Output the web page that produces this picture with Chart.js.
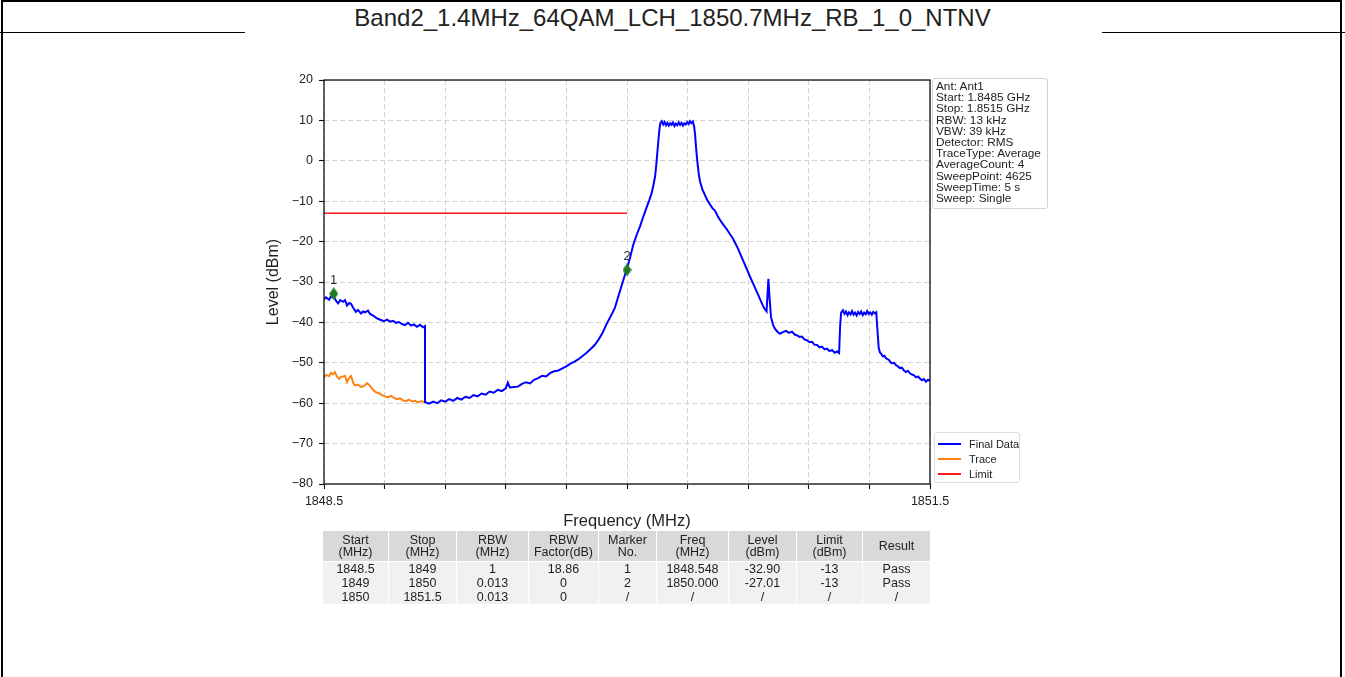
<!DOCTYPE html>
<html>
<head>
<meta charset="utf-8">
<script src="https://cdn.jsdelivr.net/npm/chart.js@4.4.1/dist/chart.umd.min.js"></script>
<style>
  html, body { margin: 0; padding: 0; background: #fff; }
  body { width: 1345px; height: 677px; overflow: hidden; position: relative;
         font-family: "Liberation Sans", Arial, sans-serif; color: #222; }
  #frame { position: absolute; left: 1px; top: 0; width: 1337px; height: 720px;
           border: 2px solid #000; border-bottom: none; }
  #title { position: absolute; left: 0; top: 1px; width: 1345px; height: 32px; line-height: 33px;
           text-align: center; font-size: 24px; }
  #rule { position: absolute; left: 0; top: 32px; width: 1345px; border-top: 1.5px solid #000; }
  #figure { position: absolute; left: 245px; top: 31px; width: 857px; height: 660px; background: #fff; }
  #chart { position: absolute; left: 0; top: 9px; }
  #info { position: absolute; left: 687px; top: 47px; width: 108px; padding: 2px 3px 4px 3px;
          border: 1px solid #d4d4d4; border-radius: 3px; font-size: 11.8px; line-height: 11.2px;
          white-space: pre; color: #222; }
  #legend { position: absolute; left: 689px; top: 401px; width: 84px; height: 49px;
            border: 1px solid #dcdcdc; border-radius: 3px; font-size: 11px; }
  #legend .item { position: absolute; left: 3px; height: 14px; line-height: 14px; white-space: nowrap; }
  #legend .swatch { display: inline-block; width: 23px; height: 2px; vertical-align: middle;
                    margin-right: 8px; position: relative; top: -1px; }
  #results { position: absolute; left: 77px; top: 499px; width: 608px; border-collapse: collapse;
             table-layout: fixed; font-size: 12.5px; text-align: center; color: #222; }
  #results th { background: #d9d9d9; font-weight: normal; height: 30px; line-height: 12.5px;
                padding: 0; border: 1px solid #fff; }
  #results td { background: #f1f1f1; height: 14px; line-height: 13px; padding: 0; border: 0 solid #fff;
                border-left-width: 1px; border-right-width: 1px; }
</style>
</head>
<body>
<div id="frame"></div>
<div id="title">Band2_1.4MHz_64QAM_LCH_1850.7MHz_RB_1_0_NTNV</div>
<div id="rule"></div>
<div id="figure">
  <canvas id="chart" width="857" height="500"></canvas>
  <div id="info"></div>
  <div id="legend"></div>
  <table id="results">
    <colgroup>
      <col style="width:66px"><col style="width:68px"><col style="width:72px"><col style="width:70px">
      <col style="width:58px"><col style="width:72px"><col style="width:68px"><col style="width:66px"><col style="width:68px">
    </colgroup>
    <thead><tr id="results-head"></tr></thead>
    <tbody></tbody>
  </table>
</div>
<script>
// spectrum trace, MHz / dBm
const finalFreq = [
  1848.500, 1848.510, 1848.525, 1848.535, 1848.550, 1848.560, 1848.570, 1848.580, 1848.595, 1848.604,
  1848.614, 1848.624, 1848.634, 1848.644, 1848.658, 1848.668, 1848.683, 1848.693, 1848.703, 1848.718,
  1848.728, 1848.743, 1848.757, 1848.767, 1848.782, 1848.797, 1848.812, 1848.827, 1848.842, 1848.856,
  1848.871, 1848.886, 1848.901, 1848.916, 1848.931, 1848.945, 1848.960, 1848.975, 1848.990, 1849.000,
  1849.000, 1849.020, 1849.040, 1849.060, 1849.080, 1849.100, 1849.120, 1849.140, 1849.160, 1849.180,
  1849.200, 1849.220, 1849.240, 1849.260, 1849.280, 1849.300, 1849.320, 1849.340, 1849.360, 1849.380,
  1849.400, 1849.410, 1849.420, 1849.440, 1849.460, 1849.480, 1849.500, 1849.520, 1849.540, 1849.560,
  1849.580, 1849.600, 1849.620, 1849.640, 1849.660, 1849.680, 1849.700, 1849.720, 1849.740, 1849.760,
  1849.780, 1849.800, 1849.820, 1849.840, 1849.860, 1849.880, 1849.900, 1849.920, 1849.940, 1849.960,
  1849.980,
  1850.000, 1850.015, 1850.031, 1850.048, 1850.064, 1850.081, 1850.098, 1850.110, 1850.122, 1850.131,
  1850.139, 1850.145, 1850.150, 1850.155, 1850.160,
  1850.165, 1850.172, 1850.179, 1850.186, 1850.193, 1850.200, 1850.207, 1850.214, 1850.221, 1850.228,
  1850.235, 1850.242, 1850.249, 1850.256, 1850.263, 1850.270, 1850.277, 1850.284, 1850.291, 1850.298,
  1850.305, 1850.312, 1850.319, 1850.326,
  1850.332, 1850.337, 1850.342, 1850.348, 1850.354, 1850.361, 1850.373, 1850.386, 1850.398, 1850.411,
  1850.423, 1850.436, 1850.448, 1850.460, 1850.478, 1850.495, 1850.510, 1850.525, 1850.538, 1850.550,
  1850.562, 1850.574, 1850.587, 1850.599, 1850.609, 1850.619, 1850.629, 1850.639, 1850.648, 1850.658,
  1850.668, 1850.678, 1850.691,
  1850.700, 1850.705, 1850.713, 1850.723, 1850.733, 1850.745, 1850.757, 1850.772, 1850.787, 1850.802,
  1850.817, 1850.830, 1850.842, 1850.854, 1850.866, 1850.878, 1850.891, 1850.903, 1850.916, 1850.928,
  1850.941, 1850.953, 1850.965, 1850.978, 1850.990, 1851.003, 1851.015, 1851.028, 1851.040, 1851.050,
  1851.055, 1851.060, 1851.069, 1851.077, 1851.084, 1851.092, 1851.099, 1851.107, 1851.114, 1851.122,
  1851.129, 1851.137, 1851.144, 1851.152, 1851.159, 1851.167, 1851.174, 1851.182, 1851.189, 1851.197,
  1851.204, 1851.212, 1851.219, 1851.227, 1851.234,
  1851.240, 1851.246, 1851.252, 1851.260, 1851.267, 1851.275, 1851.282, 1851.290, 1851.297, 1851.305,
  1851.312, 1851.322, 1851.332, 1851.342, 1851.351, 1851.361, 1851.371, 1851.381, 1851.391, 1851.401,
  1851.411, 1851.421, 1851.431, 1851.441, 1851.450, 1851.460, 1851.470, 1851.480, 1851.490, 1851.500
];
const finalLevel = [
  -34.3, -33.8, -34.4, -33.5, -33.8, -34.7, -35.3, -34.5, -34.9, -34.5,
  -35.8, -35.2, -35.4, -36.3, -37.4, -36.9, -37.8, -37.3, -37.5, -37.1,
  -37.9, -38.3, -38.8, -39.1, -39.4, -39.7, -39.3, -39.8, -39.6, -40.1,
  -39.9, -40.4, -40.7, -40.1, -40.8, -40.5, -41.1, -40.6, -41.2, -40.9,
  -59.7, -60.1, -59.6, -60.0, -59.3, -59.6, -59.0, -59.4, -58.7, -59.1,
  -58.4, -58.7, -58.0, -58.3, -57.6, -57.9, -57.1, -57.4, -56.7, -57.0,
  -56.3, -54.9, -56.1, -56.0, -55.9, -55.2, -54.8, -55.1, -54.2, -53.8,
  -53.2, -53.4, -52.5, -52.1, -51.9, -51.4, -50.9, -50.2, -49.7, -49.1,
  -48.3, -47.5, -46.6, -45.6, -44.2, -42.5, -40.3, -38.4, -36.4, -33.1,
  -29.8,
  -26.6, -24.0, -20.8, -18.3, -16.3, -13.8, -11.4, -9.8, -8.0, -6.0,
  -3.9, -1.0, 1.9, 4.8, 7.6,
  9.3, 9.8, 9.0, 9.6, 8.8, 9.4, 8.7, 9.3, 8.9, 9.5,
  8.6, 9.2, 8.8, 9.5, 8.9, 9.4, 8.7, 9.3, 9.0, 9.6,
  9.1, 9.8, 9.3, 9.7,
  8.6, 6.5, 3.2, 0.0, -2.8, -5.0, -7.1, -8.5, -9.8, -10.8,
  -11.7, -12.4, -13.6, -14.6, -15.9, -17.0, -18.2, -19.3, -20.6, -21.8,
  -23.2, -24.6, -26.1, -27.5, -28.7, -29.8, -30.9, -32.0, -33.0, -34.2,
  -35.3, -36.4, -37.3,
  -29.2, -33.5, -38.7, -40.6, -41.6, -42.3, -42.8, -42.4, -42.1, -42.6,
  -42.3, -43.0, -43.2, -43.6, -43.5, -44.2, -44.4, -44.9, -44.8, -45.5,
  -45.6, -46.2, -46.0, -46.7, -46.5, -47.1, -46.8, -47.5, -47.2, -47.6,
  -41.0, -37.6, -37.0, -37.9, -37.3, -38.2, -37.5, -38.0, -37.2, -38.1,
  -37.6, -38.3, -37.4, -37.9, -37.3, -38.2, -37.6, -38.0, -37.2, -37.9,
  -37.5, -38.1, -37.4, -37.8, -37.5,
  -42.0, -46.3, -47.4, -47.9, -48.4, -48.3, -48.9, -49.1, -49.3, -49.9,
  -50.1, -50.0, -50.6, -50.9, -51.3, -51.2, -51.9, -52.3, -52.0, -52.6,
  -52.9, -53.1, -53.6, -53.4, -53.9, -54.3, -54.0, -54.7, -54.2, -54.5
];

// raw trace below 1849 MHz (before RBW factor)
const traceFreq = [
  1848.500, 1848.510, 1848.525, 1848.535, 1848.545, 1848.554, 1848.564, 1848.574, 1848.584, 1848.594,
  1848.604, 1848.614, 1848.624, 1848.634, 1848.644, 1848.653, 1848.668, 1848.683, 1848.698, 1848.713,
  1848.728, 1848.743, 1848.757, 1848.772, 1848.787, 1848.802, 1848.817, 1848.832, 1848.847, 1848.861,
  1848.876, 1848.891, 1848.906, 1848.921, 1848.936, 1848.950, 1848.965, 1848.980, 1849.000
];
const traceLevel = [
  -53.6, -53.0, -53.3, -52.5, -52.9, -52.3, -53.4, -54.0, -53.5, -53.4,
  -53.2, -54.8, -53.8, -53.3, -54.9, -55.6, -55.4, -56.0, -55.8, -55.0,
  -55.7, -56.7, -57.3, -57.5, -58.0, -58.3, -58.5, -58.2, -58.7, -59.0,
  -58.8, -59.3, -59.5, -59.1, -59.6, -59.4, -59.8, -59.5, -59.7
];

const limitFreq = [1848.5, 1850.0];
const limitLevel = [-13, -13];

const markerNo = ['1', '2'];
const markerFreq = [1848.548, 1850.000];
const markerLevel = [-32.90, -27.01];

const xTicks = [1848.5, 1848.8, 1849.1, 1849.4, 1849.7, 1850.0, 1850.3, 1850.6, 1850.9, 1851.2, 1851.5];
const xTickLabels = ['1848.5', '', '', '', '', '', '', '', '', '', '1851.5'];

const infoLines = [
  'Ant: Ant1', 'Start: 1.8485 GHz', 'Stop: 1.8515 GHz', 'RBW: 13 kHz', 'VBW: 39 kHz',
  'Detector: RMS', 'TraceType: Average', 'AverageCount: 4', 'SweepPoint: 4625',
  'SweepTime: 5 s', 'Sweep: Single'
];

const tableHead = ['Start<br>(MHz)', 'Stop<br>(MHz)', 'RBW<br>(MHz)', 'RBW<br>Factor(dB)', 'Marker<br>No.',
                   'Freq<br>(MHz)', 'Level<br>(dBm)', 'Limit<br>(dBm)', 'Result'];
const tableRows = [
  ['1848.5', '1849', '1', '18.86', '1', '1848.548', '-32.90', '-13', 'Pass'],
  ['1849', '1850', '0.013', '0', '2', '1850.000', '-27.01', '-13', 'Pass'],
  ['1850', '1851.5', '0.013', '0', '/', '/', '/', '/', '/']
];

const FONT = '"Liberation Sans", Arial, sans-serif';
const pts = (xs, ys) => xs.map((x, i) => ({ x, y: ys[i] }));

function thinDiamond(w, h, color) {
  const c = document.createElement('canvas');
  c.width = w; c.height = h;
  const g = c.getContext('2d');
  g.fillStyle = color;
  g.beginPath();
  g.moveTo(w / 2, 0); g.lineTo(w, h / 2); g.lineTo(w / 2, h); g.lineTo(0, h / 2);
  g.closePath();
  g.fill();
  return c;
}

// black box around the plot area
const frameBox = {
  id: 'frameBox',
  afterDatasetsDraw(chart) {
    const { ctx, chartArea: a } = chart;
    ctx.save();
    ctx.strokeStyle = '#111';
    ctx.lineWidth = 1.3;
    ctx.strokeRect(a.left, a.top, a.right - a.left, a.bottom - a.top);
    ctx.restore();
  }
};

// marker numbers above the marker points
const markerText = {
  id: 'markerText',
  afterDatasetsDraw(chart) {
    const { ctx, scales } = chart;
    ctx.save();
    ctx.font = '13px ' + FONT;
    ctx.fillStyle = '#2a2a2a';
    ctx.textAlign = 'center';
    ctx.textBaseline = 'middle';
    markerNo.forEach((n, i) => {
      const x = scales.x.getPixelForValue(markerFreq[i]);
      const y = scales.y.getPixelForValue(markerLevel[i]);
      ctx.fillText(n, x, y - 13);
    });
    ctx.restore();
  }
};

const chart = new Chart(document.getElementById('chart'), {
  type: 'line',
  data: {
    datasets: [
      { label: 'Markers', type: 'scatter', data: pts(markerFreq, markerLevel),
        pointStyle: thinDiamond(9, 13, '#1f7a1f'), pointRadius: 5, order: 0, legend: false },
      { label: 'Final Data', data: pts(finalFreq, finalLevel), borderColor: '#0000ff',
        borderWidth: 2, pointRadius: 0, order: 1, legend: true },
      { label: 'Trace', data: pts(traceFreq, traceLevel), borderColor: '#ff7f0e',
        borderWidth: 1.9, pointRadius: 0, order: 2, legend: true },
      { label: 'Limit', data: pts(limitFreq, limitLevel), borderColor: '#ff1a1a',
        borderWidth: 1.4, pointRadius: 0, order: 3, legend: true }
    ]
  },
  options: {
    responsive: false,
    animation: false,
    events: [],
    layout: { padding: { left: 0, right: 172, top: 40, bottom: 0 } },
    plugins: { legend: { display: false }, tooltip: { enabled: false } },
    elements: { line: { tension: 0, fill: false } },
    scales: {
      x: {
        type: 'linear', min: 1848.5, max: 1851.5,
        afterBuildTicks: s => { s.ticks = xTicks.map(v => ({ value: v })); },
        afterFit: s => { s.height = 56; },
        ticks: {
          autoSkip: false, maxRotation: 0, padding: 5, color: '#222',
          font: { family: FONT, size: 12.5 },
          callback: (v, i) => xTickLabels[i]
        },
        grid: { color: '#d2d2d2', lineWidth: 1, tickColor: '#111', tickLength: 5, tickWidth: 1.1 },
        border: { display: false, dash: [5, 3] },
        title: { display: true, text: 'Frequency (MHz)', color: '#222',
                 font: { family: FONT, size: 16.5 }, padding: { top: 0, bottom: 9 } }
      },
      y: {
        min: -80, max: 20,
        afterFit: s => { s.width = 79; },
        ticks: {
          stepSize: 10, padding: 6, color: '#222',
          font: { family: FONT, size: 12.5 },
          callback: v => (v < 0 ? '\u2212' + Math.abs(v) : String(v))
        },
        grid: { color: '#d2d2d2', lineWidth: 1, tickColor: '#111', tickLength: 5, tickWidth: 1.1 },
        border: { display: false, dash: [5, 3] },
        title: { display: true, text: 'Level (dBm)', color: '#222',
                 font: { family: FONT, size: 16 }, padding: { top: 19, bottom: 0 } }
      }
    }
  },
  plugins: [frameBox, markerText]
});

// setting box
document.getElementById('info').textContent = infoLines.join('\n');

// legend from the chart's own datasets
const legend = document.getElementById('legend');
chart.data.datasets.filter(d => d.legend).forEach((d, i) => {
  const item = document.createElement('div');
  item.className = 'item';
  item.style.top = (4 + i * 15) + 'px';
  const sw = document.createElement('span');
  sw.className = 'swatch';
  sw.style.background = d.borderColor;
  item.appendChild(sw);
  item.appendChild(document.createTextNode(d.label));
  legend.appendChild(item);
});

// result table
const head = document.getElementById('results-head');
tableHead.forEach(h => {
  const th = document.createElement('th');
  th.innerHTML = h;
  head.appendChild(th);
});
const tbody = document.querySelector('#results tbody');
tableRows.forEach(r => {
  const tr = document.createElement('tr');
  tr.innerHTML = r.map(c => `<td>${c}</td>`).join('');
  tbody.appendChild(tr);
});
</script>
</body>
</html>
